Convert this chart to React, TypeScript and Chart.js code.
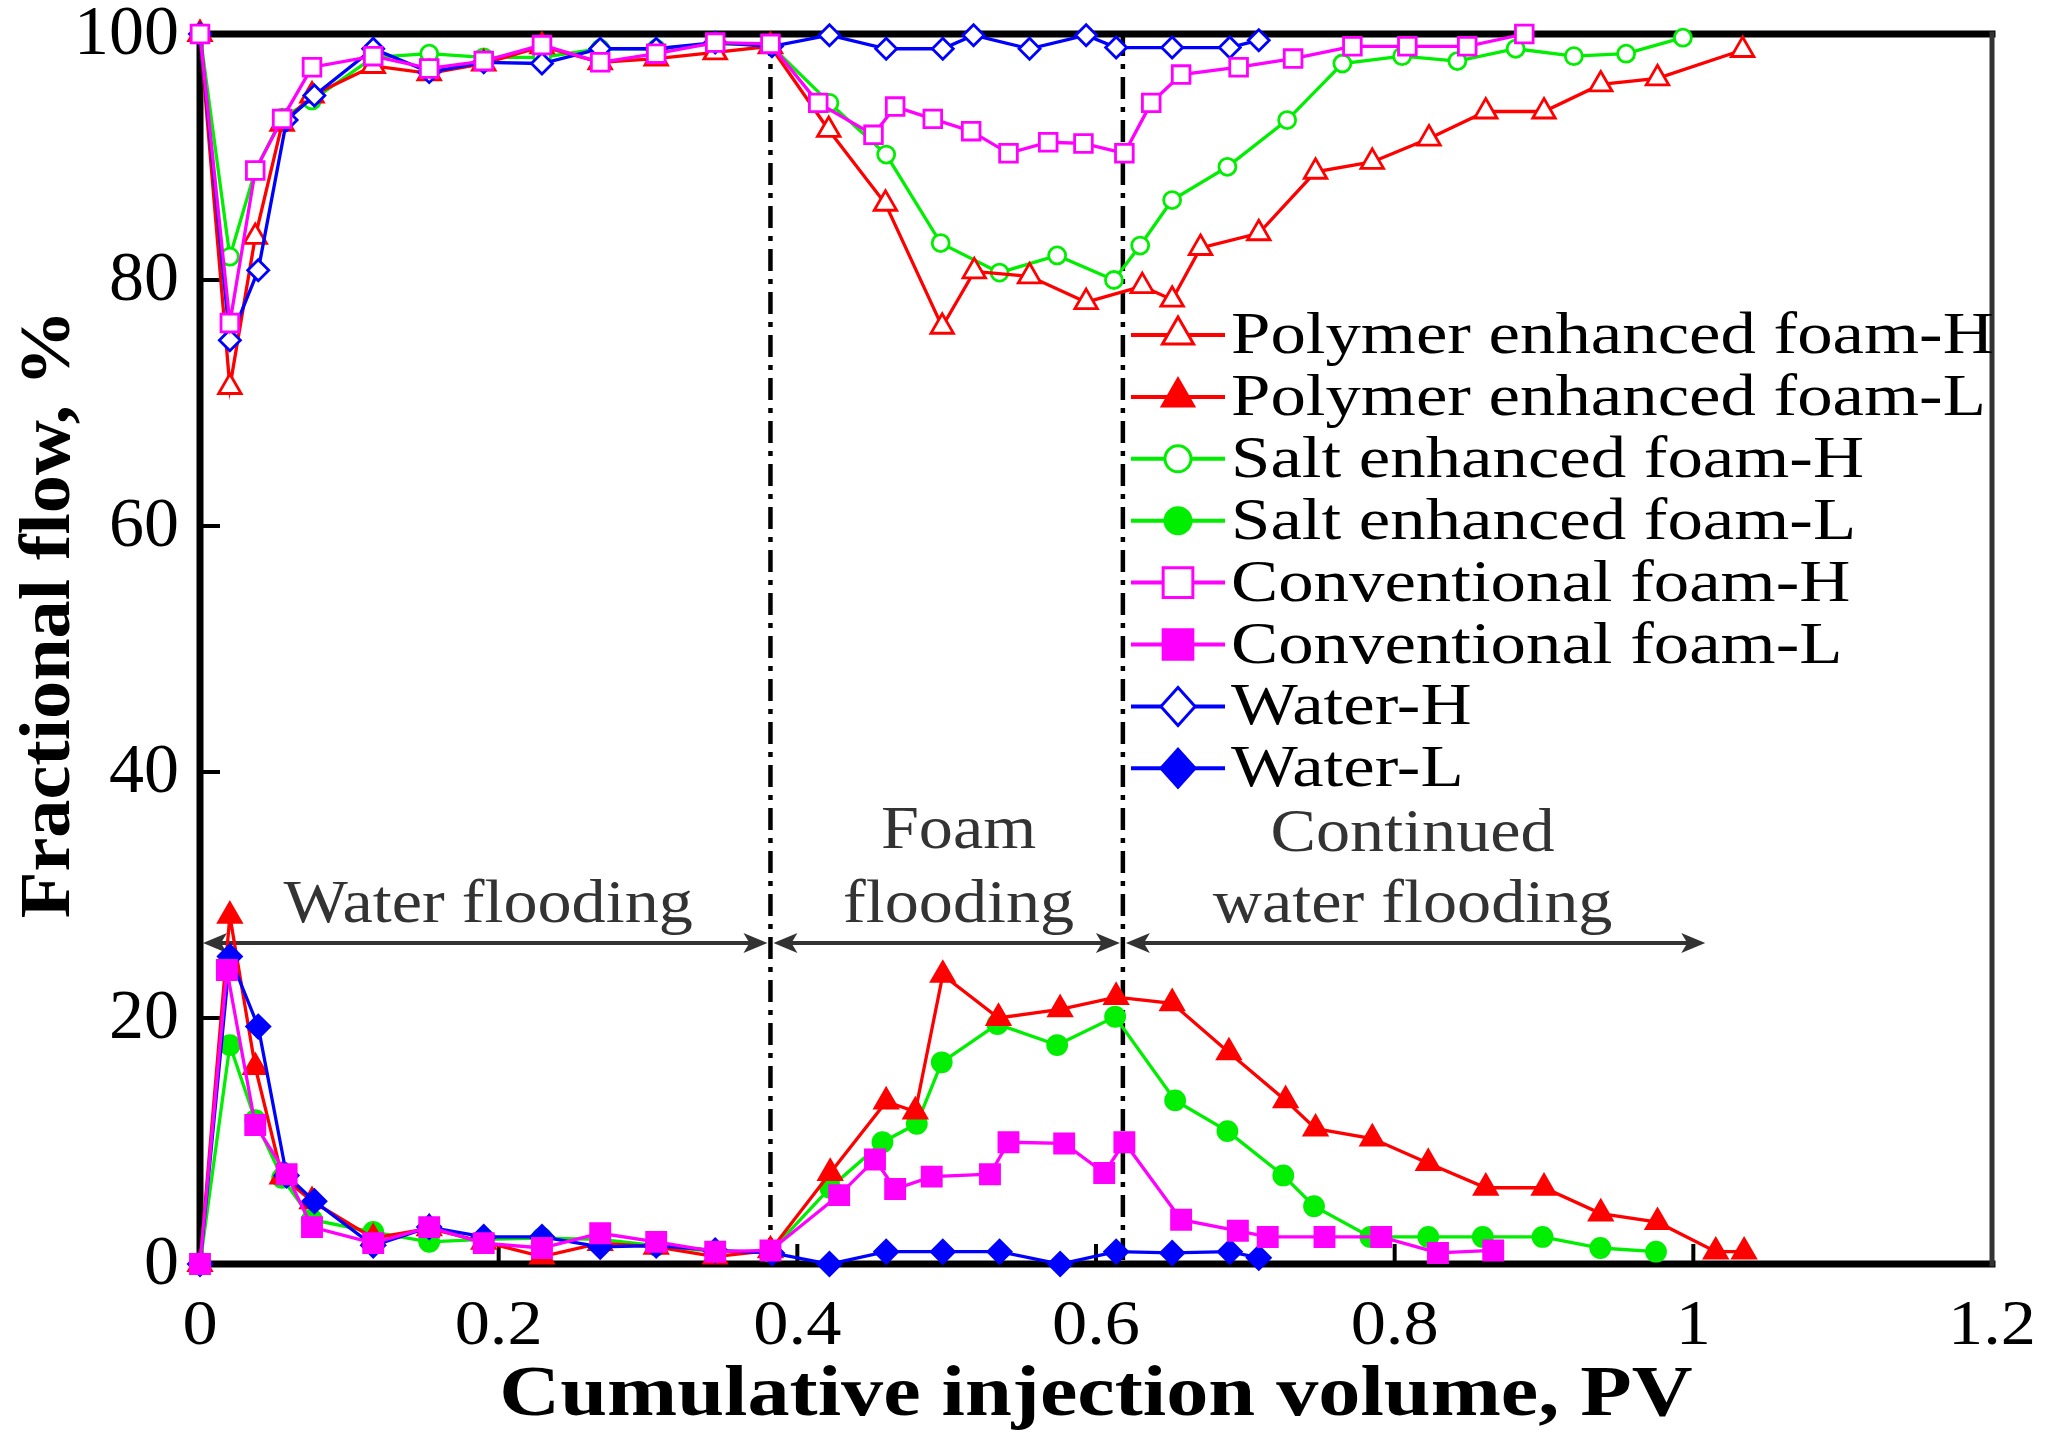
import React, { useEffect, useRef } from 'react';
import { Chart, registerables } from 'chart.js';
Chart.register(...registerables);

const W = 2062;
const H = 1444;

// ---------- data ----------
const polyHX = [0, 0.020, 0.037, 0.055, 0.075, 0.116, 0.1535, 0.19, 0.229, 0.268, 0.3055, 0.345, 0.382, 0.421, 0.459, 0.497, 0.5185, 0.5555, 0.5934, 0.631, 0.651, 0.670, 0.709, 0.747, 0.785, 0.823, 0.861, 0.900, 0.938, 0.976, 1.033];
const polyHY = [100, 71.3, 83.5, 92.7, 95, 97.4, 96.8, 97.6, 99.0, 97.7, 98.0, 98.5, 99.0, 92.2, 86.2, 76.2, 80.7, 80.3, 78.2, 79.5, 78.4, 82.6, 83.8, 88.8, 89.6, 91.5, 93.7, 93.7, 95.9, 96.4, 98.7];
const polyLX = [0, 0.020, 0.037, 0.055, 0.075, 0.116, 0.1535, 0.19, 0.229, 0.268, 0.3055, 0.345, 0.382, 0.422, 0.4595, 0.479, 0.4974, 0.5347, 0.576, 0.6135, 0.651, 0.689, 0.727, 0.747, 0.785, 0.8225, 0.861, 0.900, 0.938, 0.976, 1.015, 1.034];
const polyLY = [0, 28.3, 16.0, 7.1, 5.1, 2.1, 2.9, 1.8, 0.6, 1.7, 1.4, 0.6, 1.1, 7.4, 13.2, 12.4, 23.5, 20.0, 20.7, 21.7, 21.2, 17.2, 13.3, 11.0, 10.2, 8.2, 6.2, 6.2, 4.1, 3.4, 1.0, 1.0];
const saltHX = [0, 0.020, 0.037, 0.055, 0.075, 0.116, 0.1535, 0.19, 0.229, 0.268, 0.3055, 0.345, 0.382, 0.4215, 0.4595, 0.496, 0.5354, 0.574, 0.612, 0.6296, 0.651, 0.688, 0.728, 0.765, 0.805, 0.842, 0.881, 0.920, 0.955, 0.993];
const saltHY = [100, 81.9, 88.9, 93.2, 94.6, 98.1, 98.4, 98.1, 98.1, 98.8, 98.8, 99.2, 99.1, 94.4, 90.2, 83.0, 80.6, 82.0, 80.0, 82.8, 86.5, 89.2, 93.0, 97.6, 98.2, 97.8, 98.8, 98.2, 98.4, 99.7];
const saltLX = [0, 0.020, 0.037, 0.055, 0.075, 0.116, 0.1535, 0.19, 0.229, 0.268, 0.3055, 0.345, 0.382, 0.422, 0.457, 0.480, 0.4967, 0.534, 0.574, 0.6128, 0.653, 0.688, 0.7254, 0.746, 0.7837, 0.8225, 0.859, 0.899, 0.9377, 0.975];
const saltLY = [0, 17.8, 11.7, 7.0, 3.6, 2.6, 1.8, 2.0, 2.1, 2.0, 1.5, 1.0, 1.0, 6.2, 9.9, 11.4, 16.4, 19.5, 17.8, 20.1, 13.3, 10.8, 7.2, 4.7, 2.2, 2.2, 2.2, 2.2, 1.3, 1.0];
const convHX = [0, 0.020, 0.037, 0.055, 0.075, 0.116, 0.1535, 0.19, 0.229, 0.268, 0.3055, 0.345, 0.382, 0.414, 0.451, 0.4655, 0.4907, 0.5164, 0.5414, 0.568, 0.5916, 0.619, 0.637, 0.657, 0.6955, 0.732, 0.7717, 0.8085, 0.8486, 0.8868];
const convHY = [100, 76.5, 88.9, 93.1, 97.3, 98.2, 97.2, 97.8, 99.1, 97.7, 98.4, 99.3, 99.2, 94.4, 91.8, 94.1, 93.1, 92.1, 90.3, 91.2, 91.1, 90.3, 94.4, 96.7, 97.3, 98.0, 99.0, 99.0, 99.0, 100];
const convLX = [0, 0.018, 0.037, 0.058, 0.075, 0.116, 0.1535, 0.19, 0.229, 0.268, 0.3055, 0.345, 0.382, 0.428, 0.452, 0.4655, 0.490, 0.529, 0.5414, 0.5787, 0.6055, 0.619, 0.657, 0.695, 0.715, 0.753, 0.791, 0.829, 0.866];
const convLY = [0, 23.9, 11.3, 7.3, 3.0, 1.7, 3.0, 1.7, 1.3, 2.5, 1.8, 1.0, 1.1, 5.6, 8.5, 6.1, 7.1, 7.3, 9.9, 9.8, 7.4, 9.9, 3.6, 2.7, 2.2, 2.2, 2.2, 0.9, 1.1];
const waterHX = [0, 0.020, 0.039, 0.058, 0.0766, 0.116, 0.1535, 0.19, 0.229, 0.268, 0.3055, 0.345, 0.383, 0.4215, 0.4595, 0.4974, 0.518, 0.5555, 0.5934, 0.6135, 0.651, 0.6896, 0.709];
const waterHY = [100, 75.1, 80.8, 93.0, 95.0, 98.8, 96.9, 97.7, 97.6, 98.8, 98.8, 99.3, 99.0, 99.9, 98.8, 98.8, 99.9, 98.8, 99.9, 98.9, 98.9, 98.9, 99.5];
const waterLX = [0, 0.020, 0.039, 0.058, 0.0766, 0.116, 0.1535, 0.19, 0.229, 0.268, 0.3055, 0.345, 0.383, 0.4215, 0.4595, 0.4974, 0.5354, 0.576, 0.6135, 0.651, 0.6896, 0.709];
const waterLY = [0, 25.0, 19.3, 7.2, 5.1, 1.5, 3.0, 2.2, 2.2, 1.4, 1.5, 1.1, 0.9, 0, 1.0, 1.0, 1.0, 0, 1.0, 0.9, 1.0, 0.5];

const seriesNames = [
  'Polymer enhanced foam-H',
  'Polymer enhanced foam-L',
  'Salt enhanced foam-H',
  'Salt enhanced foam-L',
  'Conventional foam-H',
  'Conventional foam-L',
  'Water-H',
  'Water-L',
];

const xTickValues = [0, 0.2, 0.4, 0.6, 0.8, 1, 1.2];
const xTickLabels = ['0', '0.2', '0.4', '0.6', '0.8', '1', '1.2'];
const yTickValues = [0, 20, 40, 60, 80, 100];
const yTickLabels = ['0', '20', '40', '60', '80', '100'];

const phaseBoundaries = [0.382, 0.618];
const arrowLevel = 26.1;
const arrowSpans = [[0, 0.382], [0.382, 0.618], [0.618, 1.01]];
const phaseTexts = ['Water flooding', 'Foam', 'flooding', 'Continued', 'water flooding'];
const phaseTextX = [0.193, 0.508, 0.508, 0.812, 0.812];
const phaseTextY = [27.8, 33.8, 27.8, 33.6, 27.8];

const xTitle = 'Cumulative injection volume, PV';
const yTitle = 'Fractional flow, %';

// ---------- styling ----------
const RED = '#ff0000';
const GREEN = '#00ee00';
const MAGENTA = '#ff00ff';
const BLUE = '#0000ff';
const SERIF = '"Liberation Serif", "Times New Roman", serif';

type Marker = 'triangle' | 'circle' | 'rect' | 'rectRot';

function pts(xs: number[], ys: number[]) {
  return xs.map((x, i) => ({ x, y: ys[i] }));
}

function ds(label: string, xs: number[], ys: number[], color: string, marker: Marker, filled: boolean, radius: number, order: number) {
  return {
    label,
    data: pts(xs, ys),
    showLine: true,
    borderColor: color,
    borderWidth: 3.3,
    pointStyle: marker,
    pointRadius: radius,
    pointHoverRadius: radius,
    pointBorderColor: color,
    pointBackgroundColor: filled ? color : '#ffffff',
    pointBorderWidth: 2.8,
    clip: false as any,
    order,
    tension: 0,
  };
}

function drawText(ctx: CanvasRenderingContext2D, s: string, x: number, y: number, font: string, sx: number, align: CanvasTextAlign, baseline: CanvasTextBaseline, color: string, rot = 0) {
  ctx.save();
  ctx.translate(x, y);
  if (rot) ctx.rotate(rot);
  ctx.scale(sx, 1);
  ctx.font = font;
  ctx.textAlign = align;
  ctx.textBaseline = baseline;
  ctx.fillStyle = color;
  ctx.fillText(s, 0, 0);
  ctx.restore();
}

function drawMarker(ctx: CanvasRenderingContext2D, style: Marker, x: number, y: number, r: number, color: string, filled: boolean) {
  ctx.save();
  ctx.beginPath();
  if (style === 'triangle') {
    ctx.moveTo(x, y - r);
    ctx.lineTo(x + r * 0.866, y + r * 0.5);
    ctx.lineTo(x - r * 0.866, y + r * 0.5);
    ctx.closePath();
  } else if (style === 'circle') {
    ctx.arc(x, y, r, 0, Math.PI * 2);
  } else if (style === 'rect') {
    const s = r * Math.SQRT1_2;
    ctx.rect(x - s, y - s, 2 * s, 2 * s);
  } else {
    ctx.moveTo(x, y - r);
    ctx.lineTo(x + r * 0.9, y);
    ctx.lineTo(x, y + r);
    ctx.lineTo(x - r * 0.9, y);
    ctx.closePath();
  }
  ctx.fillStyle = filled ? color : '#ffffff';
  ctx.fill();
  ctx.lineWidth = 3;
  ctx.strokeStyle = color;
  ctx.stroke();
  ctx.restore();
}

const legendStyles: { color: string; marker: Marker; filled: boolean; r: number }[] = [
  { color: RED, marker: 'triangle', filled: false, r: 18 },
  { color: RED, marker: 'triangle', filled: true, r: 18 },
  { color: GREEN, marker: 'circle', filled: false, r: 13 },
  { color: GREEN, marker: 'circle', filled: true, r: 13 },
  { color: MAGENTA, marker: 'rect', filled: false, r: 21 },
  { color: MAGENTA, marker: 'rect', filled: true, r: 21 },
  { color: BLUE, marker: 'rectRot', filled: false, r: 19 },
  { color: BLUE, marker: 'rectRot', filled: true, r: 19 },
];

const decorPlugin = {
  id: 'decor',
  beforeDatasetsDraw(chart: any) {
    const ctx: CanvasRenderingContext2D = chart.ctx;
    const xs = chart.scales.x;
    const ys = chart.scales.y;
    const a = chart.chartArea;
    ctx.save();
    // dash-dot phase boundaries
    ctx.strokeStyle = '#000000';
    ctx.lineWidth = 4.5;
    ctx.setLineDash([22, 8, 5, 8]);
    for (const b of phaseBoundaries) {
      const px = xs.getPixelForValue(b);
      ctx.beginPath();
      ctx.moveTo(px, a.top);
      ctx.lineTo(px, a.bottom);
      ctx.stroke();
    }
    ctx.setLineDash([]);
    // arrows
    const ay = ys.getPixelForValue(arrowLevel);
    ctx.strokeStyle = '#333333';
    ctx.fillStyle = '#333333';
    ctx.lineWidth = 4;
    for (const [s, e] of arrowSpans) {
      const x1 = xs.getPixelForValue(s) + 3;
      const x2 = xs.getPixelForValue(e) - 3;
      ctx.beginPath();
      ctx.moveTo(x1 + 10, ay);
      ctx.lineTo(x2 - 10, ay);
      ctx.stroke();
      ctx.beginPath();
      ctx.moveTo(x1, ay);
      ctx.lineTo(x1 + 24, ay - 10);
      ctx.lineTo(x1 + 18, ay);
      ctx.lineTo(x1 + 24, ay + 10);
      ctx.closePath();
      ctx.fill();
      ctx.beginPath();
      ctx.moveTo(x2, ay);
      ctx.lineTo(x2 - 24, ay - 10);
      ctx.lineTo(x2 - 18, ay);
      ctx.lineTo(x2 - 24, ay + 10);
      ctx.closePath();
      ctx.fill();
    }
    // phase texts
    phaseTexts.forEach((t, i) => {
      drawText(ctx, t, xs.getPixelForValue(phaseTextX[i]), ys.getPixelForValue(phaseTextY[i]), `62px ${SERIF}`, 1.1, 'center', 'alphabetic', '#333333');
    });
    // frame
    ctx.lineCap = 'square';
    ctx.strokeStyle = '#000000';
    ctx.lineWidth = 7;
    ctx.beginPath();
    ctx.moveTo(a.left, a.bottom);
    ctx.lineTo(a.left, a.top);
    ctx.lineTo(a.right, a.top);
    ctx.stroke();
    ctx.beginPath();
    ctx.moveTo(a.left, a.bottom);
    ctx.lineTo(a.right, a.bottom);
    ctx.stroke();
    ctx.strokeStyle = '#333333';
    ctx.lineWidth = 5;
    ctx.beginPath();
    ctx.moveTo(a.right, a.top);
    ctx.lineTo(a.right, a.bottom);
    ctx.stroke();
    // inward ticks
    ctx.strokeStyle = '#000000';
    ctx.lineWidth = 4;
    ctx.lineCap = 'butt';
    yTickValues.forEach((v) => {
      if (v === 0 || v === 100) return;
      const py = ys.getPixelForValue(v);
      ctx.beginPath();
      ctx.moveTo(a.left, py);
      ctx.lineTo(a.left + 20, py);
      ctx.stroke();
    });
    xTickValues.forEach((v) => {
      if (v === 0 || v === 1.2) return;
      const px = xs.getPixelForValue(v);
      ctx.beginPath();
      ctx.moveTo(px, a.bottom);
      ctx.lineTo(px, a.bottom - 20);
      ctx.stroke();
    });
    ctx.restore();
  },
  afterDatasetsDraw(chart: any) {
    const ctx: CanvasRenderingContext2D = chart.ctx;
    const xs = chart.scales.x;
    const ys = chart.scales.y;
    const a = chart.chartArea;
    ctx.save();
    // tick labels
    yTickValues.forEach((v, i) => {
      drawText(ctx, yTickLabels[i], a.left - 21, ys.getPixelForValue(v) + 2, `70px ${SERIF}`, 1.0, 'right', 'middle', '#000000');
    });
    xTickValues.forEach((v, i) => {
      drawText(ctx, xTickLabels[i], xs.getPixelForValue(v), a.bottom + 63, `64px ${SERIF}`, 1.1, 'center', 'middle', '#000000');
    });
    // axis titles
    drawText(ctx, xTitle, (a.left + a.right) / 2, 1415, `bold 72px ${SERIF}`, 1.17, 'center', 'alphabetic', '#000000');
    drawText(ctx, yTitle, 50, 614, `bold 72px ${SERIF}`, 1.06, 'center', 'middle', '#000000', -Math.PI / 2);
    // legend
    const lx1 = 1131;
    const lx2 = 1225;
    seriesNames.forEach((name, i) => {
      const st = legendStyles[i];
      const cy = 335 + i * 61.9;
      ctx.strokeStyle = st.color;
      ctx.lineWidth = 4;
      ctx.beginPath();
      ctx.moveTo(lx1, cy);
      ctx.lineTo(lx2, cy);
      ctx.stroke();
      drawMarker(ctx, st.marker, (lx1 + lx2) / 2, cy, st.r, st.color, st.filled);
      drawText(ctx, name, 1231, cy + 18, `60px ${SERIF}`, 1.18, 'left', 'alphabetic', '#000000');
    });
    ctx.restore();
  },
};

export default function App() {
  const ref = useRef<HTMLCanvasElement | null>(null);
  useEffect(() => {
    document.body.style.margin = '0';
    const canvas = ref.current;
    if (!canvas) return;
    const chart = new Chart(canvas, {
      type: 'scatter',
      data: {
        datasets: [
          ds(seriesNames[0], polyHX, polyHY, RED, 'triangle', false, 13, 2),
          ds(seriesNames[1], polyLX, polyLY, RED, 'triangle', true, 13, 2),
          ds(seriesNames[2], saltHX, saltHY, GREEN, 'circle', false, 8.5, 3),
          ds(seriesNames[3], saltLX, saltLY, GREEN, 'circle', true, 9.5, 3),
          ds(seriesNames[4], convHX, convHY, MAGENTA, 'rect', false, 12.5, 0),
          ds(seriesNames[5], convLX, convLY, MAGENTA, 'rect', true, 13.5, 0),
          ds(seriesNames[6], waterHX, waterHY, BLUE, 'rectRot', false, 10.5, 1),
          ds(seriesNames[7], waterLX, waterLY, BLUE, 'rectRot', true, 11.5, 1),
        ] as any,
      },
      options: {
        responsive: false,
        animation: false,
        devicePixelRatio: 1,
        layout: { padding: { top: 34, right: 70, left: 0, bottom: 0 } },
        plugins: { legend: { display: false }, tooltip: { enabled: false }, title: { display: false } },
        events: [],
        scales: {
          x: {
            type: 'linear',
            min: 0,
            max: 1.2,
            ticks: { display: false, stepSize: 0.2 },
            grid: { display: false },
            border: { display: false },
            afterFit: (s: any) => { s.height = H - 1264; },
          },
          y: {
            type: 'linear',
            min: 0,
            max: 100,
            ticks: { display: false, stepSize: 20 },
            grid: { display: false },
            border: { display: false },
            afterFit: (s: any) => { s.width = 200; },
          },
        },
      } as any,
      plugins: [decorPlugin],
    });
    return () => chart.destroy();
  }, []);
  return (
    <div style={{ position: 'fixed', left: 0, top: 0, width: W, height: H, background: '#ffffff' }}>
      <canvas ref={ref} width={W} height={H} style={{ width: W, height: H, display: 'block' }} />
    </div>
  );
}
